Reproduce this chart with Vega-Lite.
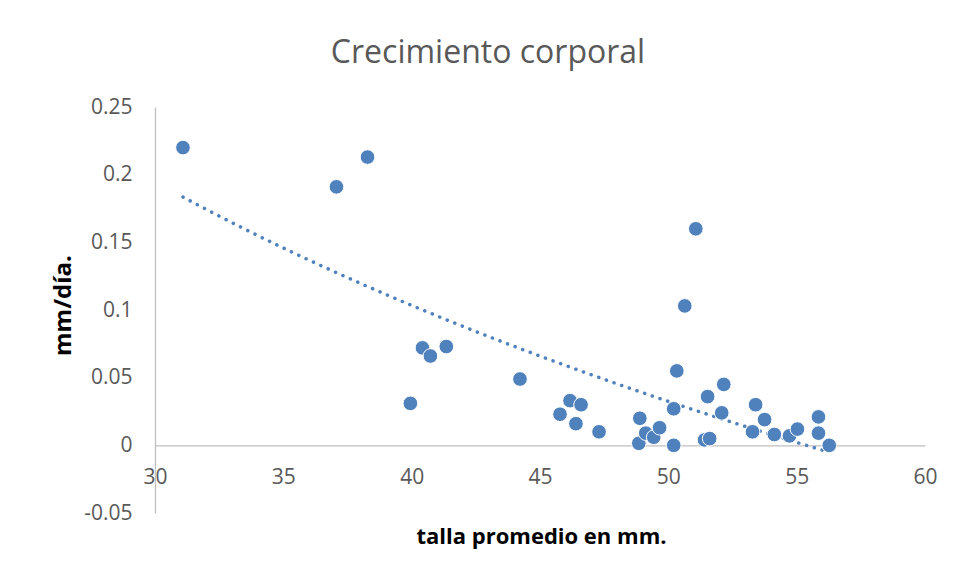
{
  "$schema": "https://vega.github.io/schema/vega-lite/v6.json",
  "width": 770,
  "height": 406,
  "autosize": {"type": "none"},
  "padding": {"left": 155, "top": 107, "right": 34, "bottom": 68},
  "background": "white",
  "config": {"view": {"stroke": null}, "font": "Open Sans"},
  "title": {
    "text": "Crecimiento corporal",
    "fontSize": 32,
    "font": "Open Sans",
    "fontWeight": "normal",
    "color": "#595959",
    "anchor": "middle",
    "frame": "group",
    "dx": -52,
    "offset": 26
  },
  "data": {
    "values": [
      {"talla": 31.09, "mm_dia": 0.220},
      {"talla": 37.07, "mm_dia": 0.191},
      {"talla": 38.28, "mm_dia": 0.213},
      {"talla": 39.95, "mm_dia": 0.031},
      {"talla": 40.42, "mm_dia": 0.072},
      {"talla": 40.73, "mm_dia": 0.066},
      {"talla": 41.35, "mm_dia": 0.073},
      {"talla": 44.22, "mm_dia": 0.049},
      {"talla": 45.78, "mm_dia": 0.023},
      {"talla": 46.17, "mm_dia": 0.033},
      {"talla": 46.40, "mm_dia": 0.016},
      {"talla": 46.60, "mm_dia": 0.030},
      {"talla": 47.30, "mm_dia": 0.010},
      {"talla": 48.89, "mm_dia": 0.020},
      {"talla": 48.85, "mm_dia": 0.0015},
      {"talla": 49.12, "mm_dia": 0.009},
      {"talla": 49.43, "mm_dia": 0.006},
      {"talla": 49.66, "mm_dia": 0.013},
      {"talla": 50.21, "mm_dia": 0.027},
      {"talla": 50.21, "mm_dia": 0.000},
      {"talla": 50.33, "mm_dia": 0.055},
      {"talla": 50.64, "mm_dia": 0.103},
      {"talla": 51.07, "mm_dia": 0.160},
      {"talla": 51.41, "mm_dia": 0.004},
      {"talla": 51.61, "mm_dia": 0.005},
      {"talla": 51.53, "mm_dia": 0.036},
      {"talla": 52.08, "mm_dia": 0.024},
      {"talla": 52.16, "mm_dia": 0.045},
      {"talla": 53.28, "mm_dia": 0.010},
      {"talla": 53.40, "mm_dia": 0.030},
      {"talla": 53.75, "mm_dia": 0.019},
      {"talla": 54.13, "mm_dia": 0.008},
      {"talla": 54.72, "mm_dia": 0.007},
      {"talla": 55.03, "mm_dia": 0.012},
      {"talla": 55.85, "mm_dia": 0.021},
      {"talla": 55.85, "mm_dia": 0.009},
      {"talla": 56.27, "mm_dia": 0.000}
    ]
  },
  "encoding": {
    "x": {
      "field": "talla",
      "type": "quantitative",
      "scale": {"domain": [30, 60], "nice": false, "zero": false},
      "axis": {
        "title": "talla promedio en mm.",
        "values": [30, 35, 40, 45, 50, 55, 60],
        "offset": -67.67,
        "grid": false,
        "ticks": false,
        "tickSize": 0,
        "domainColor": "#bfbfbf",
        "domainWidth": 1.3,
        "labelFontSize": 21,
        "labelColor": "#595959",
        "labelPadding": 32,
        "labelBaseline": "middle",
        "labelFlush": false,
        "labelOverlap": false,
        "labelBound": false,
        "titleFontSize": 22,
        "titleFontWeight": "bold",
        "titleColor": "black",
        "titleX": 386,
        "titleY": 91,
        "titleBaseline": "middle",
        "titleAlign": "center"
      }
    },
    "y": {
      "field": "mm_dia",
      "type": "quantitative",
      "scale": {"domain": [-0.05, 0.25], "nice": false, "zero": false},
      "axis": {
        "title": "mm/día.",
        "values": [-0.05, 0, 0.05, 0.1, 0.15, 0.2, 0.25],
        "labelExpr": "'' + datum.value",
        "grid": false,
        "ticks": false,
        "tickSize": 0,
        "domainColor": "#bfbfbf",
        "domainWidth": 1.3,
        "labelFontSize": 21,
        "labelColor": "#595959",
        "labelPadding": 23,
        "labelOverlap": false,
        "labelBound": false,
        "labelFlush": false,
        "titleFontSize": 24,
        "titleFontWeight": "bold",
        "titleColor": "black",
        "titleX": -92,
        "titleY": 198,
        "titleAngle": -90,
        "titleBaseline": "middle",
        "titleAlign": "center"
      }
    }
  },
  "layer": [
    {
      "transform": [{"regression": "mm_dia", "on": "talla", "method": "log"}],
      "mark": {
        "type": "line",
        "color": "#4f81bd",
        "strokeWidth": 3.5,
        "strokeDash": [0.1, 8],
        "strokeCap": "round"
      }
    },
    {
      "mark": {
        "type": "point",
        "filled": true,
        "size": 215,
        "color": "#4f81bd",
        "fill": "#4f81bd",
        "opacity": 1,
        "stroke": "white",
        "strokeWidth": 1
      }
    }
  ]
}
